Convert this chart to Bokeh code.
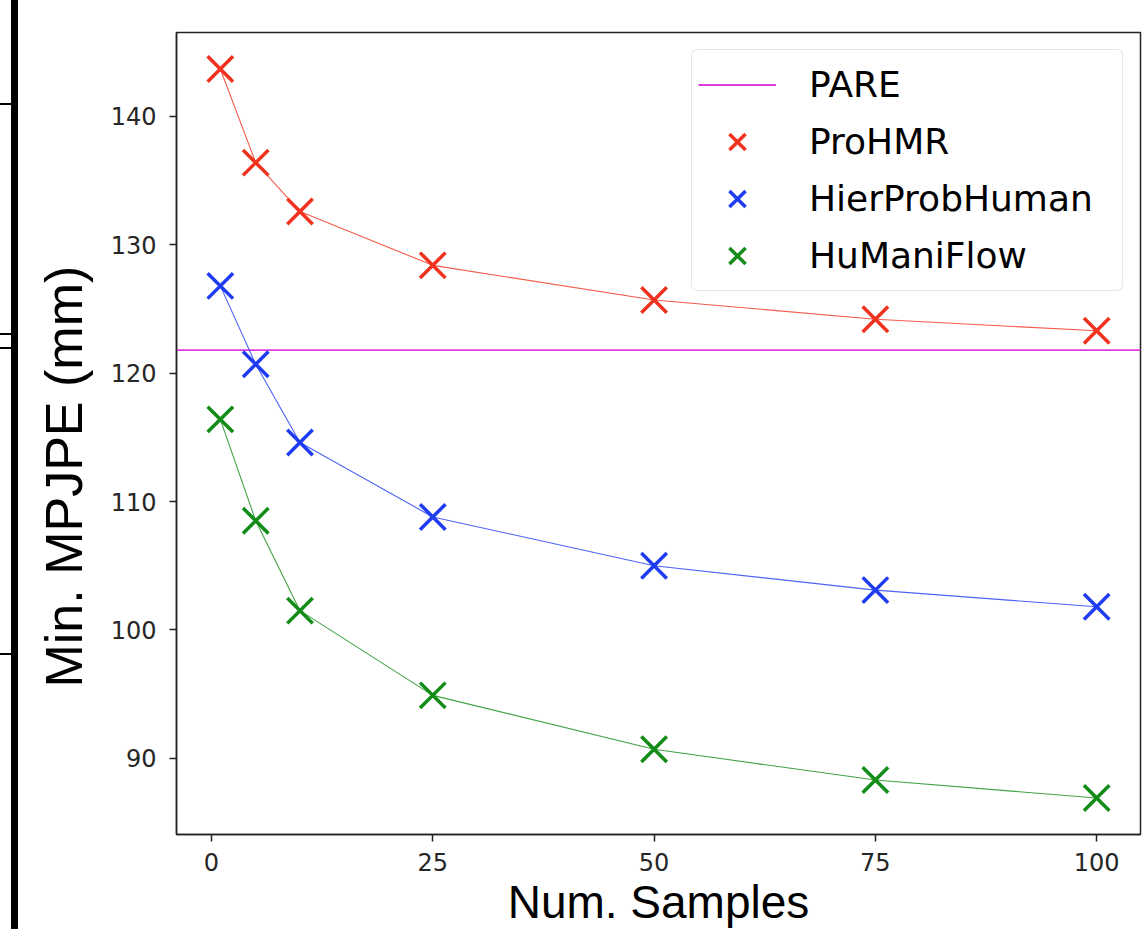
from bokeh.plotting import figure
from bokeh.models import Legend, LegendItem, FixedTicker, Range1d, Div, Title
from bokeh.layouts import row
from bokeh.embed import file_html
from bokeh.resources import INLINE

# ---- data ----
num_samples = [1, 5, 10, 25, 50, 75, 100]
prohmr = [143.7, 136.4, 132.6, 128.4, 125.7, 124.2, 123.3]
hierprobhuman = [126.8, 120.7, 114.6, 108.8, 105.0, 103.1, 101.8]
humaniflow = [116.4, 108.5, 101.5, 94.9, 90.7, 88.3, 86.9]
pare = 121.8
x_ticks = [0, 25, 50, 75, 100]
y_ticks = [90, 100, 110, 120, 130, 140]
x_label = "Num. Samples"
y_label = "Min. MPJPE (mm)"

series = [
    ("ProHMR", prohmr, "#f0321e"),
    ("HierProbHuman", hierprobhuman, "#1f3cf2"),
    ("HuManiFlow", humaniflow, "#138c17"),
]
pare_color = "#dc3ce0"

# matplotlib-like 5% margins
xmin, xmax = min(num_samples), max(num_samples)
allv = prohmr + hierprobhuman + humaniflow + [pare]
ymin, ymax = min(allv), max(allv)
xm = 0.05 * (xmax - xmin)
ym = 0.05 * (ymax - ymin)

p = figure(width=1126, height=929, output_backend="svg", toolbar_location=None,
           x_range=Range1d(xmin - xm, xmax + xm), y_range=Range1d(ymin - ym, ymax + ym))
p.min_border_left = 158
p.min_border_right = 4
p.min_border_top = 32
p.min_border_bottom = 95
p.background_fill_color = "white"
p.border_fill_color = "white"
p.outline_line_color = "#222222"
p.outline_line_width = 1.5
p.grid.visible = False

for ax in (p.xaxis[0], p.yaxis[0]):
    ax.axis_line_color = "#222222"
    ax.axis_line_width = 1.5
    ax.major_tick_line_color = "#222222"
    ax.major_tick_line_width = 1.5
    ax.major_tick_out = 7
    ax.major_tick_in = 0
    ax.minor_tick_line_color = None
    ax.major_label_text_font = "DejaVu Sans"
    ax.major_label_text_font_size = "24px"
    ax.major_label_text_color = "#262626"

p.xaxis.ticker = FixedTicker(ticks=x_ticks)
p.yaxis.ticker = FixedTicker(ticks=y_ticks)
p.xaxis.major_label_standoff = 11
p.yaxis.major_label_standoff = 13

xtitle = Title(text=x_label, align="center", vertical_align="bottom", standoff=0,
               text_font="Liberation Sans", text_font_size="46px", text_font_style="normal",
               text_color="black")
p.add_layout(xtitle, "below")

ytitle = Title(text=y_label, align="left", offset=147, vertical_align="bottom", standoff=29,
               text_font="Liberation Sans", text_font_size="52px", text_font_style="normal",
               text_color="black")
p.add_layout(ytitle, "left")

items = []
pare_r = p.line(x=[xmin - xm, xmax + xm], y=[pare, pare], line_color=pare_color, line_width=1.8)
items.append(LegendItem(label="PARE", renderers=[pare_r]))

for name, vals, col in series:
    p.line(x=num_samples, y=vals, line_color=col, line_width=1.1, line_alpha=0.8)
    r = p.scatter(x=num_samples, y=vals, marker="x", size=36, line_color=col, line_width=3.5)
    items.append(LegendItem(label=name, renderers=[r]))

legend = Legend(items=items, location="top_right")
legend.margin = 17
legend.padding = 6
legend.spacing = 0
legend.glyph_width = 78
legend.glyph_height = 57
legend.label_standoff = 33
legend.label_width = 307
legend.label_text_font = "DejaVu Sans"
legend.label_text_font_size = "36px"
legend.label_text_color = "black"
legend.border_line_color = "#cccccc"
legend.border_line_width = 1.5
legend.background_fill_color = "white"
legend.background_fill_alpha = 0.8
try:
    legend.border_radius = 6
except Exception:
    pass
p.add_layout(legend, "center")

bar_bg = ", ".join([
    "linear-gradient(#000,#000) 0px 103px / 11px 2px no-repeat",
    "linear-gradient(#000,#000) 0px 333px / 11px 2px no-repeat",
    "linear-gradient(#000,#000) 0px 347px / 11px 2px no-repeat",
    "linear-gradient(#000,#000) 0px 653px / 11px 2px no-repeat",
    "linear-gradient(to right, #ffffff 0px, #ffffff 11px, #000000 11px, #000000 18px)",
])
bar = Div(text="", width=18, height=929, margin=0, styles={"background": bar_bg})

layout = row(bar, p)
open("out.html", "w").write(file_html(layout, INLINE))
